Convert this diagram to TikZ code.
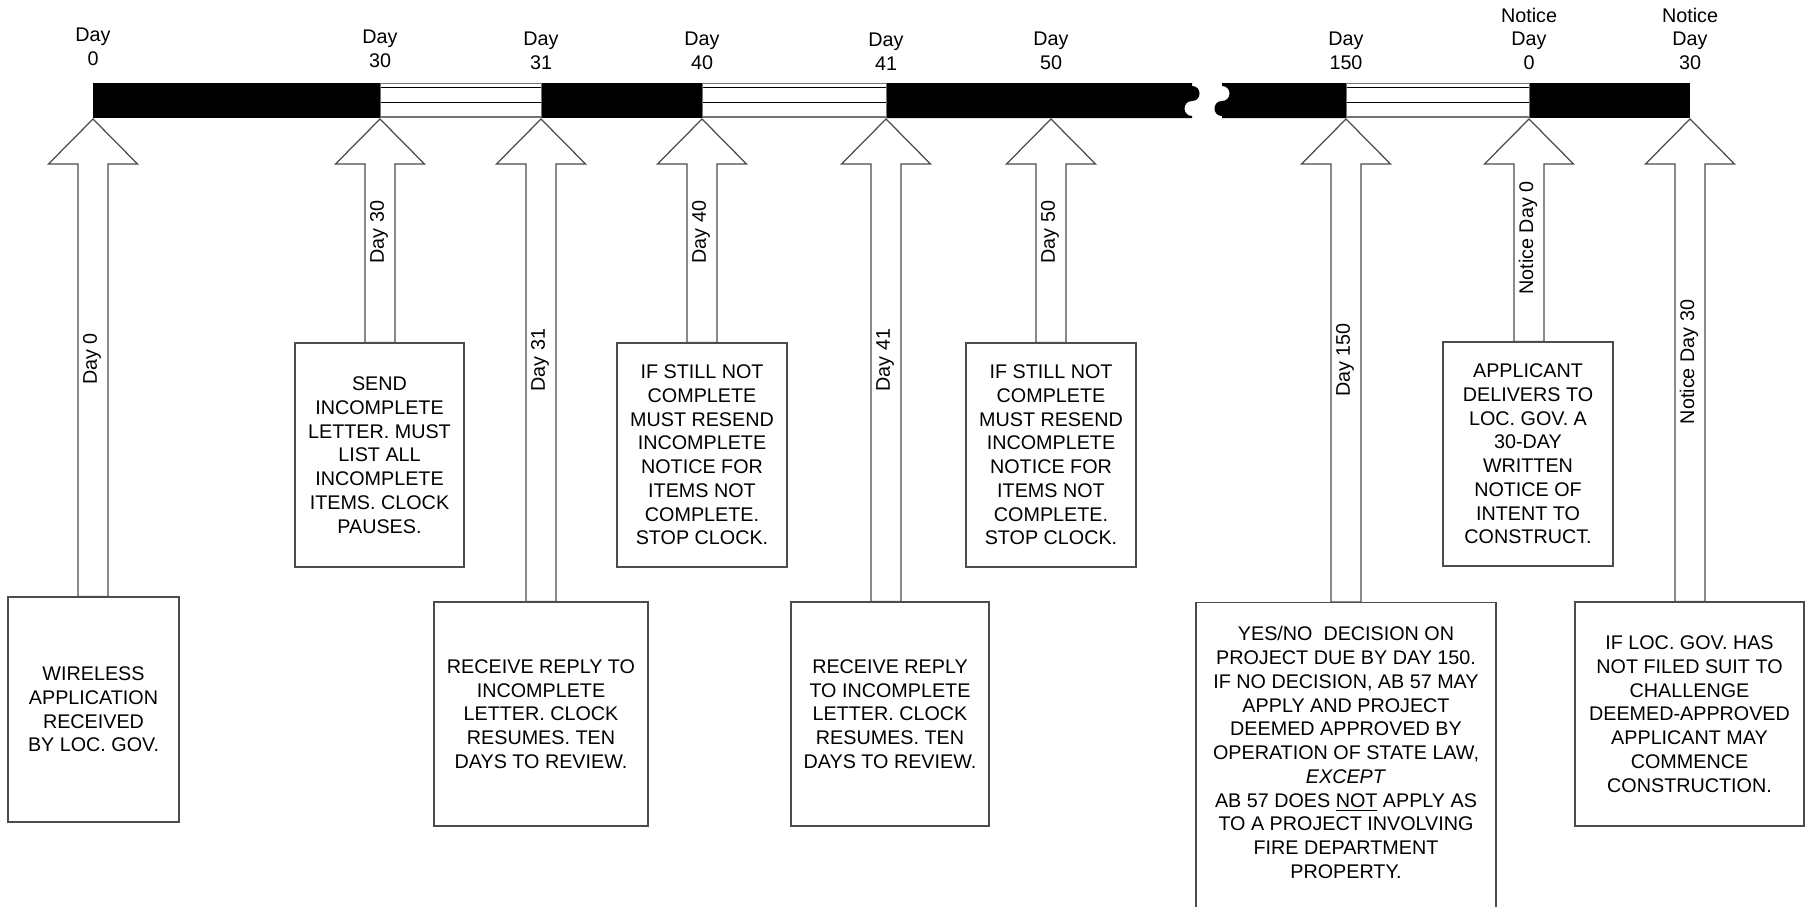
\documentclass[tikz,border=0pt]{standalone}
\usepackage{fontspec}
\setmainfont{Liberation Sans}
\usetikzlibrary{calc}

% pause segment of the time bar: white band with horizontal rules
\newcommand\pausesegment[2]{%
  \fill[white] ($(#1)+(0,-35)$) rectangle (#2);
  \draw[black!55, line width=0.4pt] ($(#1)+(0,-35)$) -- ($(#2)+(0,-35)$);
  \draw[black, line width=0.6pt] ($(#1)+(0,-30.5)$) -- ($(#2)+(0,-30.5)$);
  \draw[black, line width=0.6pt] ($(#1)+(0,-15.5)$) -- ($(#2)+(0,-15.5)$);
  \draw[black!55, line width=1pt] ($(#1)+(0,-1.2)$) -- ($(#2)+(0,-1.2)$);
  \draw[black!55, line width=0.4pt] ($(#1)+(0,-35)$) -- (#1);
  \draw[black!55, line width=0.4pt] ($(#2)+(0,-35)$) -- (#2);
}

% hollow block arrow from an event box up to its tick on the bar
\newcommand\eventarrow[2]{%
  \draw[arrowline] ($(#1)+(0,1)$) -- ($(#1)+(44.5,46)$) -- ($(#1)+(15,46)$)
    -- ($(#1 |- #2.north)+(15,0)$) -- ($(#1 |- #2.north)+(-15,0)$)
    -- ($(#1)+(-15,46)$) -- ($(#1)+(-44.5,46)$) -- cycle;
}

\begin{document}
\begin{tikzpicture}[x=0.4pt, y=-0.4pt,
  every node/.style={font=\fontsize{7.9}{9.5}\selectfont, inner sep=0pt},
  eventbox/.style={draw=black!70, line width=0.5pt, fill=white, align=center},
  boxsize/.style 2 args={minimum width=#1*0.4pt, minimum height=#2*0.4pt},
  ticklabel/.style={anchor=south, align=center, text depth=0pt},
  shaftlabel/.style={rotate=90},
  arrowline/.style={draw=black!70, line width=0.5pt, fill=white, line join=miter},
]
\useasboundingbox (0,0) rectangle (1814,907);

% ticks on the lower edge of the time bar
\coordinate (t0)   at (93,118);
\coordinate (t30)  at (380,118);
\coordinate (t31)  at (541,118);
\coordinate (t40)  at (702,118);
\coordinate (t41)  at (886,118);
\coordinate (t50)  at (1051,118);
\coordinate (t150) at (1346,118);
\coordinate (n0)   at (1529,118);
\coordinate (n30)  at (1690,118);

% event boxes
\node[eventbox, boxsize={171}{225}] (b0) at (93.5,709.5)
  {WIRELESS\\APPLICATION\\RECEIVED\\BY LOC. GOV.};
\node[eventbox, boxsize={169}{224}] (b30) at (379.5,455)
  {SEND\\INCOMPLETE\\LETTER. MUST\\LIST ALL\\INCOMPLETE\\ITEMS. CLOCK\\PAUSES.};
\node[eventbox, boxsize={214}{224}] (b31) at (541,714)
  {RECEIVE REPLY TO\\INCOMPLETE\\LETTER. CLOCK\\RESUMES. TEN\\DAYS TO REVIEW.};
\node[eventbox, boxsize={170}{224}] (b40) at (702,455)
  {IF STILL NOT\\COMPLETE\\MUST RESEND\\INCOMPLETE\\NOTICE FOR\\ITEMS NOT\\COMPLETE.\\STOP CLOCK.};
\node[eventbox, boxsize={198}{224}] (b41) at (890,714)
  {RECEIVE REPLY\\TO INCOMPLETE\\LETTER. CLOCK\\RESUMES. TEN\\DAYS TO REVIEW.};
\node[eventbox, boxsize={170}{224}] (b50) at (1051,455)
  {IF STILL NOT\\COMPLETE\\MUST RESEND\\INCOMPLETE\\NOTICE FOR\\ITEMS NOT\\COMPLETE.\\STOP CLOCK.};
\node[eventbox, boxsize={300}{330}, anchor=north] (b150) at (1346,602) {};
\node[eventbox, boxsize={170}{224}] (bn0) at (1528,454)
  {APPLICANT\\DELIVERS TO\\LOC. GOV. A\\30-DAY\\WRITTEN\\NOTICE OF\\INTENT TO\\CONSTRUCT.};
\node[eventbox, boxsize={229}{224}] (bn30) at (1689.5,714)
  {IF LOC. GOV. HAS\\NOT FILED SUIT TO\\CHALLENGE\\DEEMED-APPROVED\\APPLICANT MAY\\COMMENCE\\CONSTRUCTION.};
\node[anchor=north, align=center] (b150text) at (1346,626)
  {YES/NO\ \ DECISION ON\\PROJECT DUE BY DAY 150.\\IF NO DECISION, AB 57 MAY\\APPLY AND PROJECT\\DEEMED APPROVED BY\\OPERATION OF STATE LAW,\\\textit{EXCEPT}\\AB 57 DOES \underline{NOT} APPLY AS\\TO A PROJECT INVOLVING\\FIRE DEPARTMENT\\PROPERTY.};

% block arrows
\eventarrow{t0}{b0}
\eventarrow{t30}{b30}
\eventarrow{t31}{b31}
\eventarrow{t40}{b40}
\eventarrow{t41}{b41}
\eventarrow{t50}{b50}
\eventarrow{t150}{b150}
\eventarrow{n0}{bn0}
\eventarrow{n30}{bn30}

% labels inside the arrow shafts
\node[shaftlabel] (s0)   at (92,359)   {Day 0};
\node[shaftlabel] (s30)  at (379,232)  {Day 30};
\node[shaftlabel] (s31)  at (540,360)  {Day 31};
\node[shaftlabel] (s40)  at (701,232)  {Day 40};
\node[shaftlabel] (s41)  at (885,360)  {Day 41};
\node[shaftlabel] (s50)  at (1050,232) {Day 50};
\node[shaftlabel] (s150) at (1345,360) {Day 150};
\node[shaftlabel] (sn0)  at (1528,238) {Notice Day 0};
\node[shaftlabel] (sn30) at (1689,362) {Notice Day 30};

% time bar: running segments
\fill[black] ($(t0)+(0,-35)$) rectangle (t30);
\fill[black] ($(t31)+(0,-35)$) rectangle (t40);
\fill[black] ($(t150)+(0,-35)$) rectangle (n0) ;
\fill[black] ($(n0)+(0,-35)$) rectangle (n30);
% segment before the break, with a wavy cut end
\fill[black] (886,118) -- (886,83) -- (1192,83) -- (1192,86)
  .. controls (1202,86) and (1202,101) .. (1192,101)
  .. controls (1182,101) and (1182,116) .. (1192,116) -- (1192,118) -- cycle;
% segment after the break
\fill[black] (1346,118) -- (1346,83) -- (1222,83) -- (1222,86)
  .. controls (1232,86) and (1232,101) .. (1222,101)
  .. controls (1212,101) and (1212,116) .. (1222,116) -- (1222,118) -- cycle;
% clock paused
\pausesegment{t30}{t31}
\pausesegment{t40}{t41}
\pausesegment{t150}{n0}

% tick labels above the bar
\node[ticklabel] (d0)   at (93,66)   {Day\\0};
\node[ticklabel] (d30)  at (380,68)  {Day\\30};
\node[ticklabel] (d31)  at (541,70)  {Day\\31};
\node[ticklabel] (d40)  at (702,70)  {Day\\40};
\node[ticklabel] (d41)  at (886,71)  {Day\\41};
\node[ticklabel] (d50)  at (1051,70) {Day\\50};
\node[ticklabel] (d150) at (1346,70) {Day\\150};
\node[ticklabel] (dn0)  at (1529,70) {Notice\\Day\\0};
\node[ticklabel] (dn30) at (1690,70) {Notice\\Day\\30};
\end{tikzpicture}
\end{document}
